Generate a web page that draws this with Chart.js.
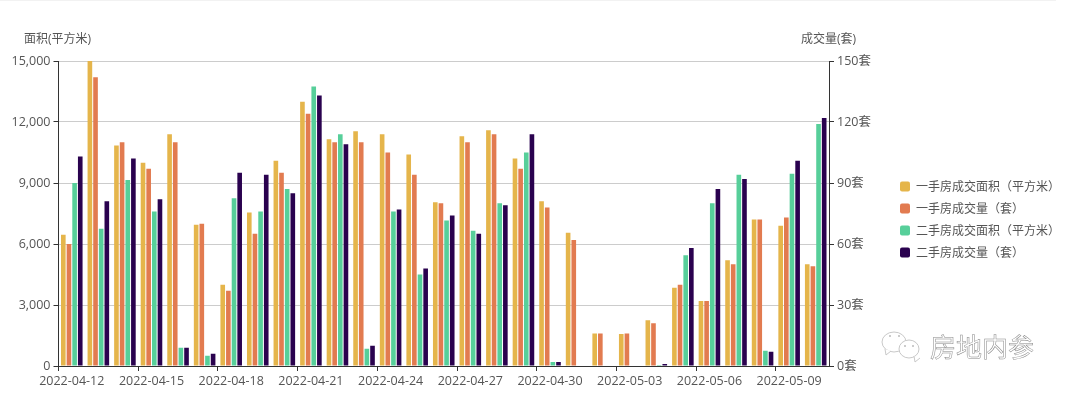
<!DOCTYPE html>
<html><head><meta charset="utf-8">
<style>html,body{margin:0;padding:0;background:#fff}#w{width:1068px;height:394px;position:relative}#t{position:absolute;left:0;top:0;width:1056px;height:1px;background:#f2f2f2}canvas{display:block}</style>
<script src="https://cdn.jsdelivr.net/npm/chart.js@4/dist/chart.umd.js"></script>
</head><body><div id="w"><canvas id="c" width="1068" height="394"></canvas><div id="t"></div></div>
<script>
const categories=["2022-04-12","2022-04-13","2022-04-14","2022-04-15","2022-04-16","2022-04-17","2022-04-18","2022-04-19","2022-04-20","2022-04-21","2022-04-22","2022-04-23","2022-04-24","2022-04-25","2022-04-26","2022-04-27","2022-04-28","2022-04-29","2022-04-30","2022-05-01","2022-05-02","2022-05-03","2022-05-04","2022-05-05","2022-05-06","2022-05-07","2022-05-08","2022-05-09","2022-05-10"];
const newArea=[6450,15000,10850,10000,11400,6950,4000,7550,10100,13000,11150,11550,11400,10400,8050,11300,11600,10200,8100,6550,1600,1570,2250,3850,3200,5200,7200,6900,5000];
const newCount=[60,142,110,97,110,70,37,65,95,124,110,110,105,94,80,110,114,97,78,62,16,16,21,40,32,50,72,73,49];
const oldArea=[9000,6750,9150,7600,900,500,8250,7600,8700,13750,11400,850,7600,4500,7150,6650,8000,10500,200,0,0,0,50,5450,8000,9400,750,9450,11900];
const oldCount=[103,81,102,82,9,6,95,94,85,133,109,10,77,48,74,65,79,114,2,0,0,0,1,58,87,92,7,101,122];
const seriesNames=["一手房成交面积（平方米）","一手房成交量（套）","二手房成交面积（平方米）","二手房成交量（套）"];
const seriesColors=["#e5b54b","#e27b50","#57cf9a","#2a024f"];
const areaTicks=[0,3000,6000,9000,12000,15000];
const countTicks=[0,30,60,90,120,150];
const leftName="面积(平方米)",rightName="成交量(套)",watermark="房地内参";
const FONT='"Open Sans","Noto Sans CJK SC",sans-serif';
const LEGEND_FONT='"Noto Sans CJK SC",sans-serif';
const TXT='#555';
function ds(i,data,axis){return {label:seriesNames[i],data,backgroundColor:seriesColors[i],yAxisID:axis,categoryPercentage:0.85,barPercentage:0.82,borderWidth:0};}
const extras={id:'extras',
 afterLayout(ch){ch.legend.top-=8;ch.legend.bottom-=8;},
 afterDraw(ch){
  const g=ch.ctx;g.save();
  g.font='12px '+FONT;g.fillStyle=TXT;g.textBaseline='middle';
  g.textAlign='left';g.fillText(leftName,24,40);g.fillText(rightName,801,40);
  g.strokeStyle='#c8c8c8';g.lineWidth=1;g.fillStyle='#fff';
  const bub=(x,y,rx,ry,tx,ty)=>{g.beginPath();g.ellipse(x,y,rx,ry,0,0,Math.PI*2);g.fill();g.stroke();g.beginPath();g.moveTo(tx,ty);g.lineTo(tx+1,ty+6);g.lineTo(tx+6,ty+2);g.fill();g.stroke();};
  bub(894,342,12,10,885,349);bub(909,349,10,9,914,356);
  g.fillStyle='#bbb';[[890,336],[899,336],[905,346],[913,346]].forEach(p=>{g.beginPath();g.arc(p[0],p[1],1,0,Math.PI*2);g.fill();});
  g.font='26px "Noto Sans CJK SC",sans-serif';g.textAlign='left';g.fillStyle='#fff';g.strokeStyle='#888';g.lineWidth=0.5;
  g.fillText(watermark,930,347);g.strokeText(watermark,930,347);
  g.restore();
}};
new Chart(document.getElementById('c'),{type:'bar',
 data:{labels:categories,datasets:[ds(0,newArea,'y'),ds(1,newCount,'y1'),ds(2,oldArea,'y'),ds(3,oldCount,'y1')]},
 options:{responsive:false,animation:false,
  layout:{padding:{left:0,top:61,right:0,bottom:0}},
  plugins:{title:{display:false},tooltip:{enabled:false},
   legend:{position:'right',labels:{color:TXT,font:{family:LEGEND_FONT,size:12},boxWidth:10,boxHeight:10,padding:10,
    generateLabels(ch){return ch.data.datasets.map((d,i)=>({text:d.label,fillStyle:d.backgroundColor,strokeStyle:d.backgroundColor,lineWidth:0,borderRadius:2,datasetIndex:i,fontColor:TXT}));}}}},
  scales:{
   x:{offset:true,afterFit(s){s.height=28;},grid:{offset:true,drawOnChartArea:false,drawTicks:true,tickLength:5,tickColor:(c)=>c.index%3===0?'#333':'rgba(0,0,0,0)',color:'#333'},border:{color:'#333',width:1},
      ticks:{autoSkip:false,maxRotation:0,minRotation:0,color:TXT,padding:3,font:{family:FONT,size:12.5},callback(v,i){return i%3===0?categories[i]:'';}}},
   y:{position:'left',min:0,max:15000,afterBuildTicks(s){s.ticks=areaTicks.map(value=>({value}));},afterFit(s){s.width=58.5;},
      grid:{color:'#ccc',tickColor:'#333',tickLength:5},border:{color:'#333',width:1},
      ticks:{color:TXT,padding:3,font:{family:FONT,size:12.5},callback(v){return v.toLocaleString('en-US');}}},
   y1:{position:'right',min:0,max:150,afterBuildTicks(s){s.ticks=countTicks.map(value=>({value}));},afterFit(s){s.width=61;},
      grid:{drawOnChartArea:false,tickColor:'#333',tickLength:5},border:{color:'#333',width:1},
      ticks:{color:TXT,padding:3,font:{family:FONT,size:12.5},callback(v){return v+'套';}}}
  }},plugins:[extras]});
</script></body></html>
